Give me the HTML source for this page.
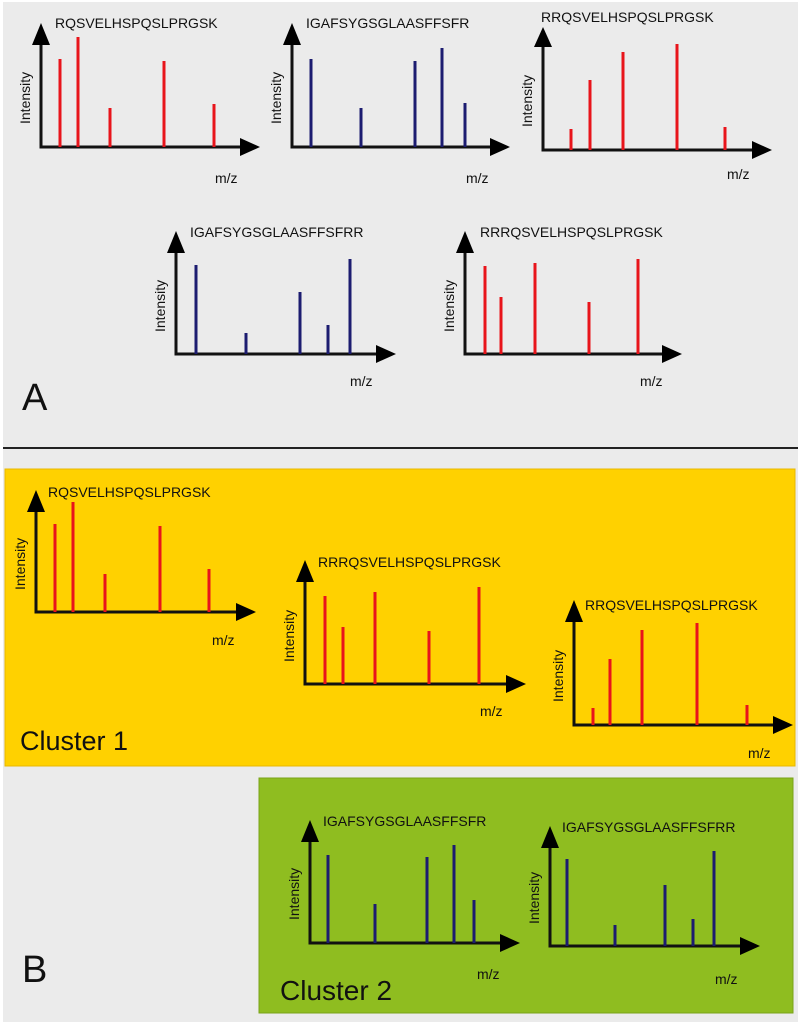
<!DOCTYPE html>
<html><head><meta charset="utf-8"><style>
html,body{margin:0;padding:0;background:#fff}
svg{display:block}
text{font-family:"Liberation Sans",sans-serif;fill:#111}
.ax{stroke:#111;stroke-width:3;fill:none}
.r{stroke:#e8141b;stroke-width:3}
.b{stroke:#1c1c70;stroke-width:3}
.lb{font-size:14px}
.it{font-size:14px}
</style></head><body>
<svg width="800" height="1026" viewBox="0 0 800 1026" xmlns="http://www.w3.org/2000/svg">
<rect x="0" y="0" width="800" height="1026" fill="#fff"/>
<rect x="3" y="2" width="795" height="1020" fill="#ebebeb"/>
<line x1="3" y1="448" x2="798" y2="448" stroke="#222" stroke-width="2"/>
<rect x="5" y="469" width="790" height="297" fill="#ffd100" stroke="#e8b800"/>
<rect x="259" y="778" width="534" height="235" fill="#8fbd20" stroke="#7aa318"/>

<g>
<path class="ax" d="M41 40 V147 H245"/>
<polygon points="41,23 32,45 50,45"/><polygon points="260,147 240,138 240,156"/>
<line class="r" x1="60" y1="147" x2="60" y2="59"/><line class="r" x1="78" y1="147" x2="78" y2="37"/>
<line class="r" x1="110" y1="147" x2="110" y2="108"/><line class="r" x1="164" y1="147" x2="164" y2="61"/>
<line class="r" x1="214" y1="147" x2="214" y2="104"/>
<text class="lb" x="55" y="28">RQSVELHSPQSLPRGSK</text>
<text class="it" transform="translate(30,124) rotate(-90)">Intensity</text>
<text class="lb" x="215" y="183">m/z</text>
</g>
<g>
<path class="ax" d="M292 40 V147 H495"/>
<polygon points="292,23 283,45 301,45"/><polygon points="510,147 490,138 490,156"/>
<line class="b" x1="311" y1="147" x2="311" y2="59"/><line class="b" x1="361" y1="147" x2="361" y2="108"/>
<line class="b" x1="415" y1="147" x2="415" y2="61"/><line class="b" x1="442" y1="147" x2="442" y2="48"/>
<line class="b" x1="465" y1="147" x2="465" y2="103"/>
<text class="lb" x="306" y="28">IGAFSYGSGLAASFFSFR</text>
<text class="it" transform="translate(281,124) rotate(-90)">Intensity</text>
<text class="lb" x="466" y="183">m/z</text>
</g>
<g>
<path class="ax" d="M543 42 V150 H755"/>
<polygon points="543,27 534,47 552,47"/><polygon points="772,150 752,141 752,159"/>
<line class="r" x1="571" y1="150" x2="571" y2="129"/><line class="r" x1="590" y1="150" x2="590" y2="80"/>
<line class="r" x1="623" y1="150" x2="623" y2="52"/><line class="r" x1="677" y1="150" x2="677" y2="44"/>
<line class="r" x1="725" y1="150" x2="725" y2="127"/>
<text class="lb" x="541" y="22">RRQSVELHSPQSLPRGSK</text>
<text class="it" transform="translate(532,127) rotate(-90)">Intensity</text>
<text class="lb" x="727" y="179">m/z</text>
</g>
<g>
<path class="ax" d="M176 248 V354 H380"/>
<polygon points="176,231 167,253 185,253"/><polygon points="396,354 376,345 376,363"/>
<line class="b" x1="196" y1="354" x2="196" y2="265"/><line class="b" x1="246" y1="354" x2="246" y2="333"/>
<line class="b" x1="300" y1="354" x2="300" y2="292"/><line class="b" x1="328" y1="354" x2="328" y2="325"/>
<line class="b" x1="350" y1="354" x2="350" y2="259"/>
<text class="lb" x="190" y="237">IGAFSYGSGLAASFFSFRR</text>
<text class="it" transform="translate(165,332) rotate(-90)">Intensity</text>
<text class="lb" x="350" y="386">m/z</text>
</g>
<g>
<path class="ax" d="M465 248 V354 H665"/>
<polygon points="465,231 456,253 474,253"/><polygon points="682,354 662,345 662,363"/>
<line class="r" x1="485" y1="354" x2="485" y2="266"/><line class="r" x1="501" y1="354" x2="501" y2="297"/>
<line class="r" x1="535" y1="354" x2="535" y2="263"/><line class="r" x1="589" y1="354" x2="589" y2="302"/>
<line class="r" x1="638" y1="354" x2="638" y2="259"/>
<text class="lb" x="480" y="237">RRRQSVELHSPQSLPRGSK</text>
<text class="it" transform="translate(454,332) rotate(-90)">Intensity</text>
<text class="lb" x="640" y="386">m/z</text>
</g>
<text x="22" y="410" style="font-size:38px">A</text>

<g>
<path class="ax" d="M36 507 V612 H240"/>
<polygon points="36,490 27,512 45,512"/><polygon points="256,612 236,603 236,621"/>
<line class="r" x1="55" y1="612" x2="55" y2="524"/><line class="r" x1="73" y1="612" x2="73" y2="502"/>
<line class="r" x1="105" y1="612" x2="105" y2="574"/><line class="r" x1="160" y1="612" x2="160" y2="526"/>
<line class="r" x1="209" y1="612" x2="209" y2="569"/>
<text class="lb" x="48" y="497">RQSVELHSPQSLPRGSK</text>
<text class="it" transform="translate(25,590) rotate(-90)">Intensity</text>
<text class="lb" x="212" y="645">m/z</text>
</g>
<g>
<path class="ax" d="M305 577 V684 H510"/>
<polygon points="305,560 296,582 314,582"/><polygon points="526,684 506,675 506,693"/>
<line class="r" x1="325" y1="684" x2="325" y2="596"/><line class="r" x1="343" y1="684" x2="343" y2="627"/>
<line class="r" x1="375" y1="684" x2="375" y2="592"/><line class="r" x1="429" y1="684" x2="429" y2="631"/>
<line class="r" x1="479" y1="684" x2="479" y2="587"/>
<text class="lb" x="318" y="567">RRRQSVELHSPQSLPRGSK</text>
<text class="it" transform="translate(294,662) rotate(-90)">Intensity</text>
<text class="lb" x="480" y="716">m/z</text>
</g>
<g>
<path class="ax" d="M574 617 V725 H776"/>
<polygon points="574,600 565,622 583,622"/><polygon points="793,725 773,716 773,734"/>
<line class="r" x1="593" y1="725" x2="593" y2="708"/><line class="r" x1="610" y1="725" x2="610" y2="659"/>
<line class="r" x1="642" y1="725" x2="642" y2="630"/><line class="r" x1="697" y1="725" x2="697" y2="623"/>
<line class="r" x1="747" y1="725" x2="747" y2="705"/>
<text class="lb" x="585" y="610">RRQSVELHSPQSLPRGSK</text>
<text class="it" transform="translate(563,702) rotate(-90)">Intensity</text>
<text class="lb" x="748" y="758">m/z</text>
</g>
<text x="20" y="750" style="font-size:27px">Cluster 1</text>

<g>
<path class="ax" d="M310 837 V943 H503"/>
<polygon points="310,820 301,842 319,842"/><polygon points="520,943 500,934 500,952"/>
<line class="b" x1="328" y1="943" x2="328" y2="855"/><line class="b" x1="375" y1="943" x2="375" y2="904"/>
<line class="b" x1="427" y1="943" x2="427" y2="857"/><line class="b" x1="454" y1="943" x2="454" y2="845"/>
<line class="b" x1="474" y1="943" x2="474" y2="900"/>
<text class="lb" x="323" y="826">IGAFSYGSGLAASFFSFR</text>
<text class="it" transform="translate(299,920) rotate(-90)">Intensity</text>
<text class="lb" x="477" y="979">m/z</text>
</g>
<g>
<path class="ax" d="M550 843 V946 H744"/>
<polygon points="550,826 541,848 559,848"/><polygon points="760,946 740,937 740,955"/>
<line class="b" x1="567" y1="946" x2="567" y2="859"/><line class="b" x1="615" y1="946" x2="615" y2="925"/>
<line class="b" x1="665" y1="946" x2="665" y2="885"/><line class="b" x1="693" y1="946" x2="693" y2="919"/>
<line class="b" x1="714" y1="946" x2="714" y2="851"/>
<text class="lb" x="562" y="832">IGAFSYGSGLAASFFSFRR</text>
<text class="it" transform="translate(539,924) rotate(-90)">Intensity</text>
<text class="lb" x="715" y="984">m/z</text>
</g>
<text x="280" y="1000" style="font-size:28px">Cluster 2</text>
<text x="22" y="982" style="font-size:38px">B</text>
</svg>
</body></html>
